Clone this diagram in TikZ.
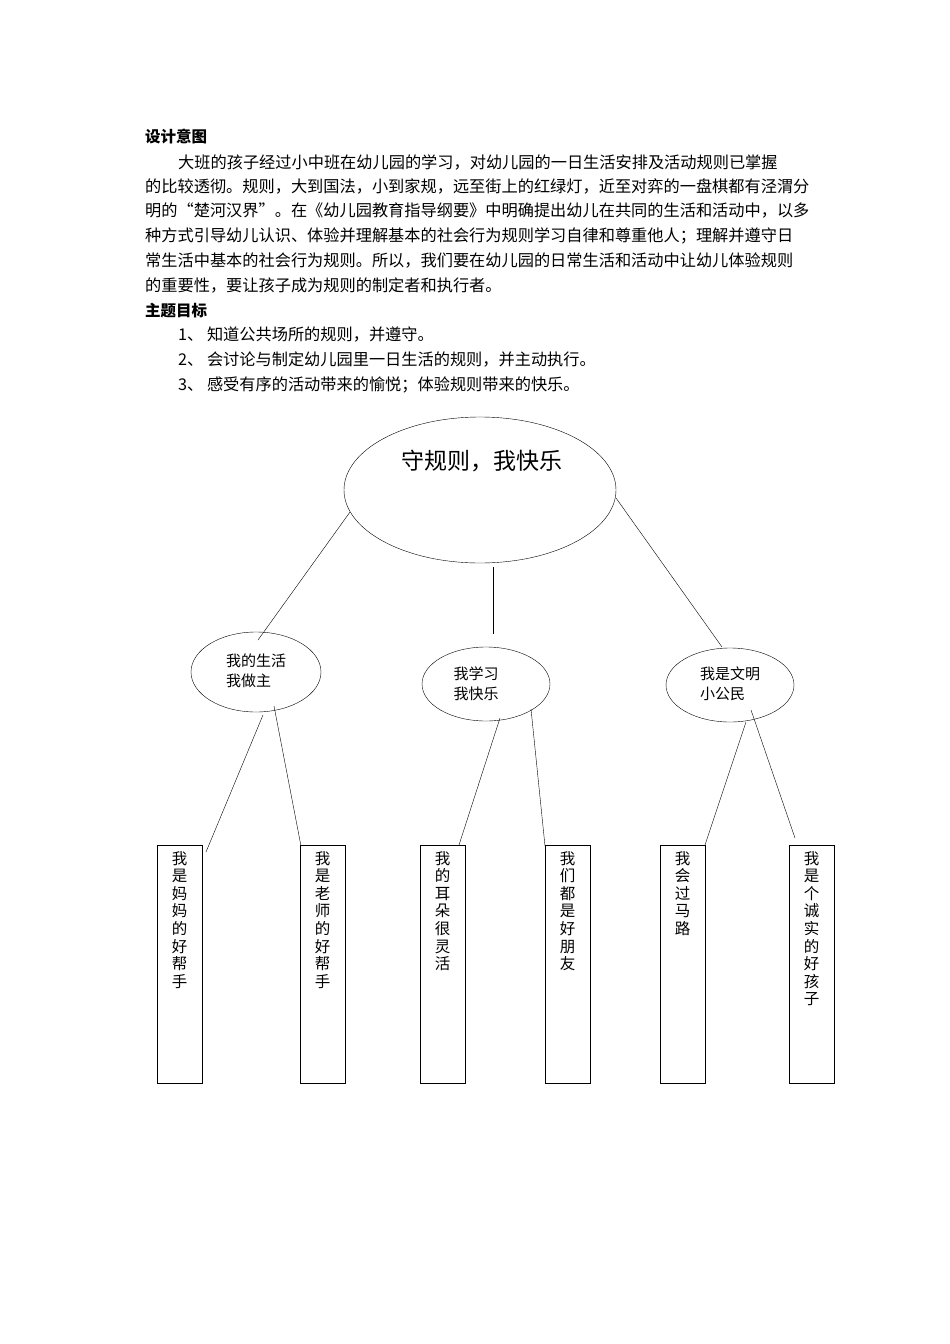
\documentclass[tikz,border=0pt]{standalone}
\usepackage{fontspec}
\setmainfont{Noto Sans CJK SC}
\begin{document}
\begin{tikzpicture}[x=1pt,y=-1pt,
  para/.style={anchor=west,inner sep=0pt,font=\fontsize{16.2}{18}\selectfont},
  vbox/.style={draw,thin,minimum width=45pt,minimum height=238pt,anchor=north west,inner sep=0pt},
  vtext/.style={anchor=north,inner sep=0pt,align=center,font=\fontsize{15.5}{17.6}\selectfont}]
\useasboundingbox (0,0) rectangle (950,1344);
\node[para,font=\bfseries\fontsize{15.5}{18}\selectfont] at (145,137) {设计意图};
\node[para] at (178,162) {大班的孩子经过小中班在幼儿园的学习，对幼儿园的一日生活安排及活动规则已掌握};
\node[para] at (145,186) {的比较透彻。规则，大到国法，小到家规，远至街上的红绿灯，近至对弈的一盘棋都有泾渭分};
\node[para] at (145,211) {明的“楚河汉界”。在《幼儿园教育指导纲要》中明确提出幼儿在共同的生活和活动中，以多};
\node[para] at (145,236) {种方式引导幼儿认识、体验并理解基本的社会行为规则学习自律和尊重他人；理解并遵守日};
\node[para] at (145,261) {常生活中基本的社会行为规则。所以，我们要在幼儿园的日常生活和活动中让幼儿体验规则};
\node[para] at (145,286) {的重要性，要让孩子成为规则的制定者和执行者。};
\node[para,font=\bfseries\fontsize{15.5}{18}\selectfont] at (145,311) {主题目标};
\node[para] at (178,335) {1、 知道公共场所的规则，并遵守。};
\node[para] at (178,360) {2、 会讨论与制定幼儿园里一日生活的规则，并主动执行。};
\node[para] at (178,385) {3、 感受有序的活动带来的愉悦；体验规则带来的快乐。};

\draw (480,490) ellipse [x radius=136, y radius=73];
\node[font=\fontsize{23}{26}\selectfont] (root) at (482,461) {守规则，我快乐};
\draw (256,672) ellipse [x radius=65, y radius=40];
\draw (486,684) ellipse [x radius=64, y radius=37];
\draw (730,685) ellipse [x radius=64, y radius=37];
\node[align=left,font=\fontsize{15}{20}\selectfont] (a) at (256,671) {我的生活\\我做主};
\node[align=left,font=\fontsize{15}{20}\selectfont] (b) at (476,684) {我学习\\我快乐};
\node[align=left,font=\fontsize{15}{20}\selectfont] (c) at (730,684) {我是文明\\小公民};

\coordinate (r1) at (350,512); \coordinate (a0) at (258,640);
\coordinate (r2) at (493,567); \coordinate (b0) at (493,634);
\coordinate (r3) at (616,498); \coordinate (c0) at (722,647);
\draw (r1)--(a0); \draw (r2)--(b0); \draw (r3)--(c0);

\node[vbox] (m1) at (157,845) {}; \node[vtext] at (179.5,851) {我\\是\\妈\\妈\\的\\好\\帮\\手};
\node[vbox] (m2) at (300,845) {}; \node[vtext] at (322.5,851) {我\\是\\老\\师\\的\\好\\帮\\手};
\node[vbox] (m3) at (420,845) {}; \node[vtext] at (442.5,851) {我\\的\\耳\\朵\\很\\灵\\活};
\node[vbox] (m4) at (545,845) {}; \node[vtext] at (567.5,851) {我\\们\\都\\是\\好\\朋\\友};
\node[vbox] (m5) at (660,845) {}; \node[vtext] at (682.5,851) {我\\会\\过\\马\\路};
\node[vbox] (m6) at (789,845) {}; \node[vtext] at (811.5,851) {我\\是\\个\\诚\\实\\的\\好\\孩\\子};

\coordinate (a1) at (263,715); \coordinate (e1) at (206,852);
\coordinate (a2) at (274,706); \coordinate (e2) at (301,846);
\coordinate (b1) at (500,718); \coordinate (e3) at (459,845);
\coordinate (b2) at (531,709); \coordinate (e4) at (545,846);
\coordinate (c1) at (746,722); \coordinate (e5) at (705,845);
\coordinate (c2) at (751,710); \coordinate (e6) at (795,838);
\draw (a1)--(e1); \draw (a2)--(e2); \draw (b1)--(e3);
\draw (b2)--(e4); \draw (c1)--(e5); \draw (c2)--(e6);
\end{tikzpicture}
\end{document}
